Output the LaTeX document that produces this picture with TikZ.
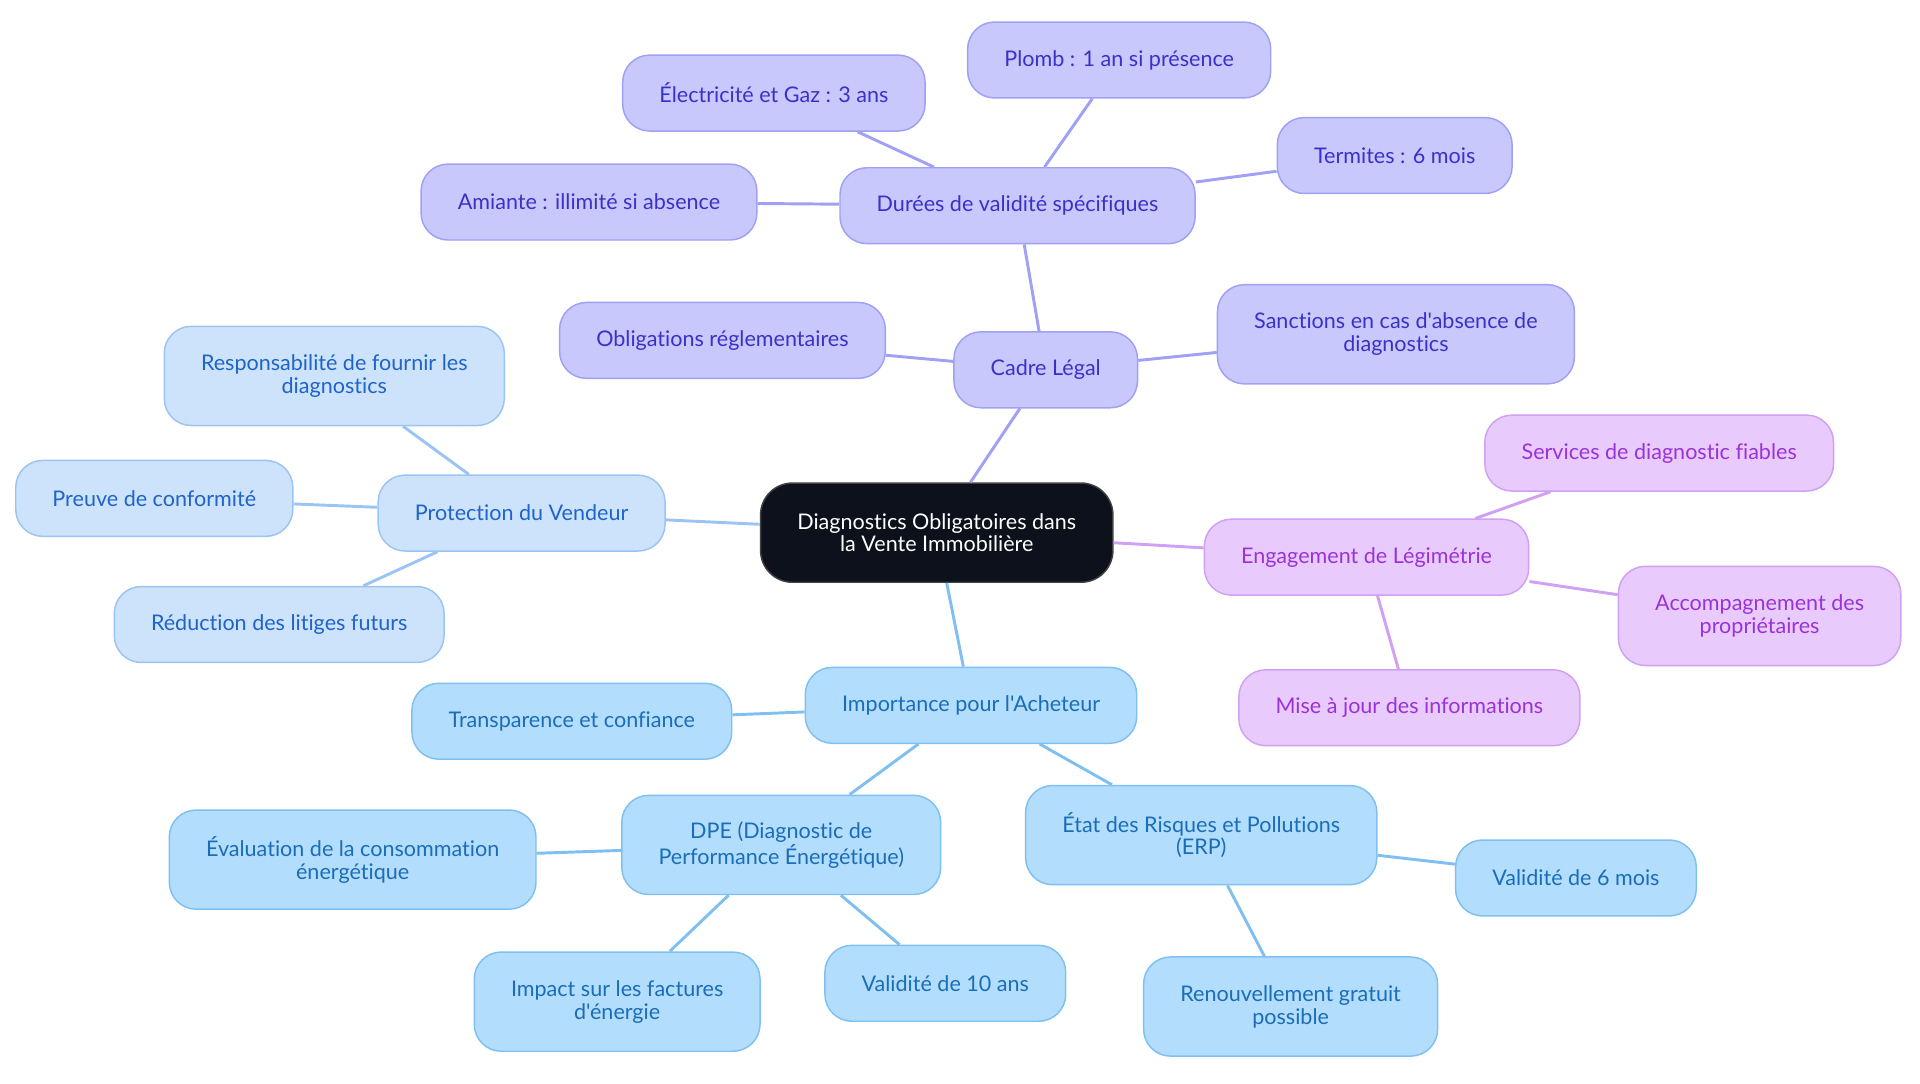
\documentclass[tikz,border=0pt]{standalone}
\usepackage{fontspec}
\setmainfont{Lato}[Ligatures={TeXOff,NoCommon}]
\usetikzlibrary{calc}
\definecolor{rootfill}{HTML}{0C111B}
\definecolor{purfill}{HTML}{C8C8FC}
\definecolor{purdraw}{HTML}{A0A0F4}
\definecolor{purtext}{HTML}{3A32C8}
\definecolor{ltbfill}{HTML}{CDE2FB}
\definecolor{ltbdraw}{HTML}{9CC4F2}
\definecolor{ltbtext}{HTML}{1F64C8}
\definecolor{blufill}{HTML}{B3DDFC}
\definecolor{bludraw}{HTML}{80C0F0}
\definecolor{blutext}{HTML}{1A6DB8}
\definecolor{lavfill}{HTML}{E8CBFC}
\definecolor{lavdraw}{HTML}{D0A0F4}
\definecolor{lavtext}{HTML}{9A32D8}
\tikzset{
  box/.style={rounded corners=11pt, line width=0.6pt, align=center, inner xsep=15pt, inner ysep=3pt, minimum height=31pt, font=\fontsize{8.8}{9.3}\selectfont},
  tall/.style={minimum height=40.5pt},
  rootbox/.style={box, fill=rootfill, draw=black!75, text=white, minimum height=40.5pt, rounded corners=13pt},
  purbox/.style={box, fill=purfill, draw=purdraw, text=purtext},
  ltbbox/.style={box, fill=ltbfill, draw=ltbdraw, text=ltbtext},
  blubox/.style={box, fill=blufill, draw=bludraw, text=blutext},
  lavbox/.style={box, fill=lavfill, draw=lavdraw, text=lavtext},
  link/.style={line width=1.2pt}
}
\begin{document}
\begin{tikzpicture}[x=0.5pt, y=-0.5pt]
			%%%%% START %%%%%
			\useasboundingbox (0,0) rectangle (1568,884.5);
			
			\node[rootbox] (root) at (765, 435) {Diagnostics Obligatoires dans\\la Vente Immobilière};
			
			\node[purbox] (cadre) at (854, 302) {Cadre Légal};
			\node[purbox] (durees) at (831, 168) {Durées de validité spécifiques};
			\node[purbox] (oblig) at (590, 278) {Obligations réglementaires};
			\node[purbox, tall] (sanct) at (1140, 273) {Sanctions en cas d'absence de\\diagnostics};
			\node[purbox] (elec) at (632, 76) {Électricité et Gaz : 3 ans};
			\node[purbox] (plomb) at (914, 49) {Plomb : 1 an si présence};
			\node[purbox] (term) at (1139, 127) {Termites : 6 mois};
			\node[purbox] (amiante) at (481, 165) {Amiante : illimité si absence};
			
			\node[ltbbox] (protec) at (426, 419) {Protection du Vendeur};
			\node[ltbbox, tall] (respons) at (273, 307) {Responsabilité de fournir les\\diagnostics};
			\node[ltbbox] (preuve) at (126, 407) {Preuve de conformité};
			\node[ltbbox] (reduc) at (228, 510) {Réduction des litiges futurs};
			
			\node[lavbox] (engag) at (1116, 455) {Engagement de Légimétrie};
			\node[lavbox] (serv) at (1355, 370) {Services de diagnostic fiables};
			\node[lavbox, tall] (accomp) at (1437, 503) {Accompagnement des\\propriétaires};
			\node[lavbox] (maj) at (1151, 578) {Mise à jour des informations};
			
			\node[blubox] (import) at (793, 576) {Importance pour l'Acheteur};
			\node[blubox] (transp) at (467, 589) {Transparence et confiance};
			\node[blubox, tall] (dpe) at (638, 690) {DPE (Diagnostic de\\Performance Énergétique)};
			\node[blubox, tall] (erp) at (981, 682) {État des Risques et Pollutions\\(ERP)};
			\node[blubox, tall] (evalu) at (288, 702) {Évaluation de la consommation\\énergétique};
			\node[blubox, tall] (impact) at (504, 818) {Impact sur les factures\\d'énergie};
			\node[blubox] (valdix) at (772, 803) {Validité de 10 ans};
			\node[blubox] (valsix) at (1287, 717) {Validité de 6 mois};
			\node[blubox, tall] (renouv) at (1054, 822) {Renouvellement gratuit\\possible};
			
			\draw[link, purdraw] (root) -- (cadre);
			\draw[link, purdraw] (cadre) -- (durees);
			\draw[link, purdraw] (cadre) -- (oblig);
			\draw[link, purdraw] (cadre) -- (sanct);
			\draw[link, purdraw] (durees) -- (elec);
			\draw[link, purdraw] (durees) -- (plomb);
			\draw[link, purdraw] (durees) -- (term);
			\draw[link, purdraw] (durees) -- (amiante);
			
			\draw[link, ltbdraw] (root) -- (protec);
			\draw[link, ltbdraw] (protec) -- (respons);
			\draw[link, ltbdraw] (protec) -- (preuve);
			\draw[link, ltbdraw] (protec) -- (reduc);
			
			\draw[link, lavdraw] (root) -- (engag);
			\draw[link, lavdraw] (engag) -- (serv);
			\draw[link, lavdraw] (engag) -- (accomp);
			\draw[link, lavdraw] (engag) -- (maj);
			
			\draw[link, bludraw] (root) -- (import);
			\draw[link, bludraw] (import) -- (transp);
			\draw[link, bludraw] (import) -- (dpe);
			\draw[link, bludraw] (import) -- (erp);
			\draw[link, bludraw] (dpe) -- (evalu);
			\draw[link, bludraw] (dpe) -- (impact);
			\draw[link, bludraw] (dpe) -- (valdix);
			\draw[link, bludraw] (erp) -- (valsix);
			\draw[link, bludraw] (erp) -- (renouv);
			
			%%%%% END %%%%%
		\end{tikzpicture}
\end{document}
